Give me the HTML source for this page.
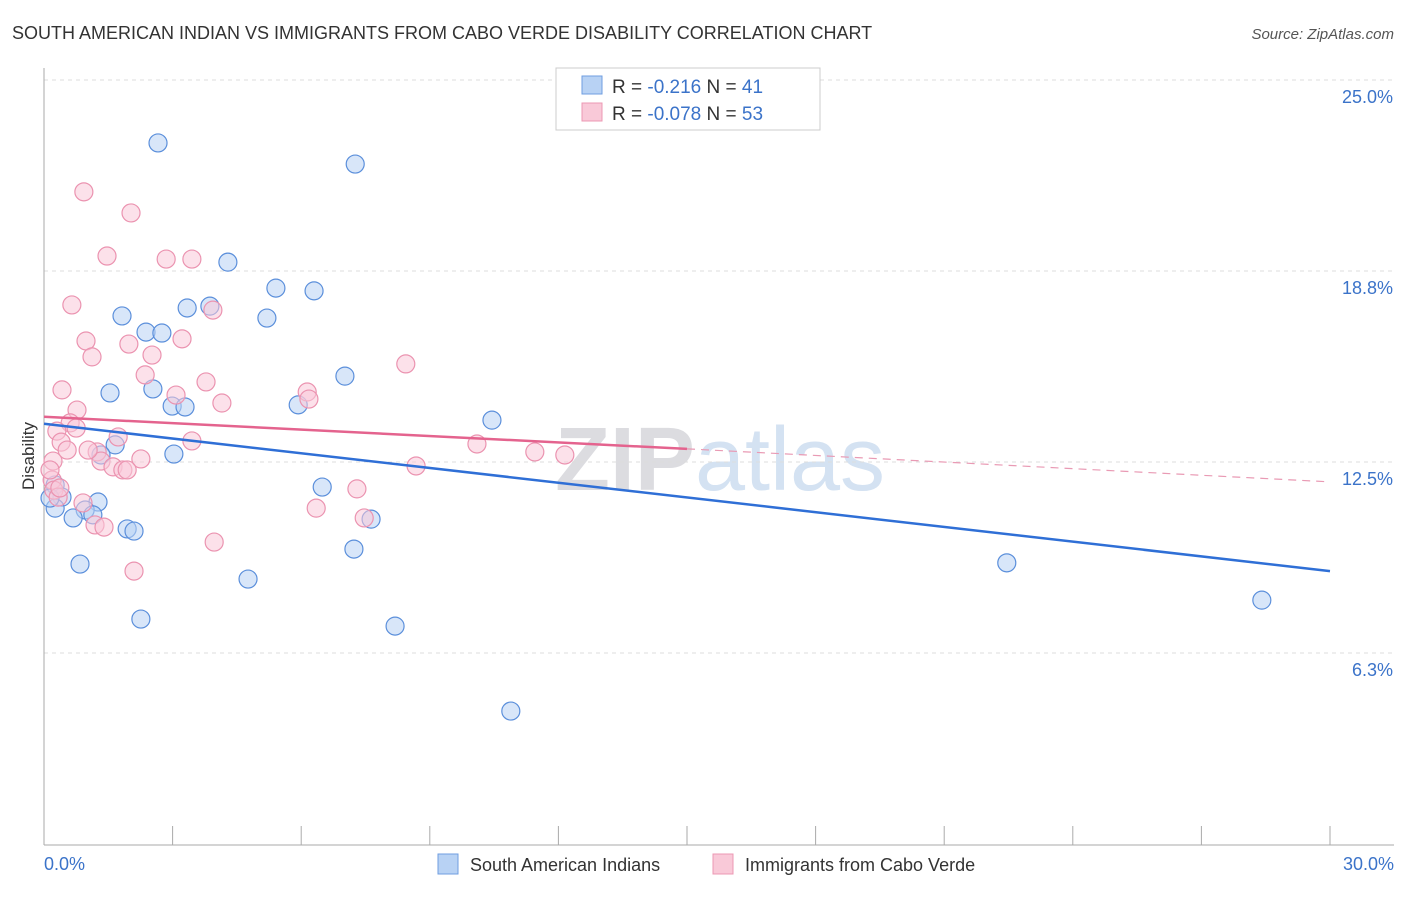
<!DOCTYPE html>
<html><head><meta charset="utf-8"><style>
body{margin:0;background:#fff;font-family:"Liberation Sans",sans-serif}
svg text{font-family:"Liberation Sans",sans-serif}
</style></head><body>
<svg width="1406" height="892">
<text x="12" y="39" font-size="18" fill="#333">SOUTH AMERICAN INDIAN VS IMMIGRANTS FROM CABO VERDE DISABILITY CORRELATION CHART</text>
<text x="1394" y="39" font-size="15" fill="#555" font-style="italic" text-anchor="end">Source: ZipAtlas.com</text>
<text x="720" y="490" font-size="90" fill="#e6e6ea" text-anchor="middle" font-family="Liberation Serif"><tspan font-weight="bold" fill="#dcdce0">ZIP</tspan><tspan fill="#d4e2f2">atlas</tspan></text>
<g id="grid"></g><g id="axes"></g><g id="pts"></g><g id="lines"></g>
<text x="34" y="456" font-size="17" fill="#333" text-anchor="middle" transform="rotate(-90 34 456)">Disability</text>
<text x="44" y="870" font-size="18" fill="#3b73c9">0.0%</text>
<text x="1394" y="870" font-size="18" fill="#3b73c9" text-anchor="end">30.0%</text>
<g>
<rect x="556" y="68" width="264" height="62" fill="#fff" stroke="#ccc"/>
<rect x="582" y="76" width="20" height="18" fill="#b8d2f4" stroke="#6f9ee0"/>
<rect x="582" y="103" width="20" height="18" fill="#f9c9d8" stroke="#ec98b3"/>
<text x="612" y="93" font-size="19" fill="#333">R = <tspan fill="#3b73c9">-0.216</tspan>   N = <tspan fill="#3b73c9">41</tspan></text>
<text x="612" y="120" font-size="19" fill="#333">R = <tspan fill="#3b73c9">-0.078</tspan>   N = <tspan fill="#3b73c9">53</tspan></text>
</g>
<g>
<rect x="438" y="854" width="20" height="20" fill="#b8d2f4" stroke="#6f9ee0"/>
<text x="470" y="871" font-size="18" fill="#333">South American Indians</text>
<rect x="713" y="854" width="20" height="20" fill="#f9c9d8" stroke="#ec98b3"/>
<text x="745" y="871" font-size="18" fill="#333">Immigrants from Cabo Verde</text>
</g>
</svg>
<script>
const yTicks=[25,18.75,12.5,6.25];
const yTickLabels=["25.0%","18.8%","12.5%","6.3%"];
const xTicks=[0,3,6,9,12,15,18,21,24,27,30];
const blueX=[2.66,7.26,4.29,5.41,6.30,3.87,3.34,1.82,5.20,2.38,2.75,7.02,2.54,1.54,2.99,3.29,5.93,10.45,1.66,1.33,3.03,6.49,0.26,0.42,1.26,0.26,0.96,1.14,0.68,1.94,2.10,7.63,7.23,0.84,4.76,22.46,2.26,8.19,28.41,10.89,0.14];
const blueY=[22.94,22.25,19.04,18.19,18.10,17.60,17.54,17.28,17.21,16.75,16.72,15.31,14.89,14.76,14.33,14.30,14.37,13.87,13.06,12.73,12.76,11.68,11.75,11.35,11.19,10.99,10.93,10.77,10.67,10.31,10.24,10.63,9.65,9.16,8.67,9.20,7.36,7.13,7.98,4.35,11.32];
const pinkX=[0.93,2.03,1.47,2.85,3.45,0.65,3.94,0.98,1.98,3.22,1.12,2.52,8.44,2.36,3.78,0.42,3.08,6.14,6.18,4.15,0.77,0.61,0.75,0.30,1.73,0.40,3.45,0.54,10.10,11.45,12.15,1.24,0.21,1.33,2.26,1.61,1.84,1.94,8.68,0.19,0.23,0.33,0.91,7.30,6.35,7.47,1.19,1.40,3.97,2.10,0.37,0.14,1.03];
const pinkY=[21.34,20.65,19.24,19.14,19.14,17.64,17.47,16.46,16.36,16.53,15.94,16.00,15.71,15.35,15.12,14.86,14.69,14.79,14.56,14.43,14.20,13.78,13.61,13.51,13.32,13.15,13.19,12.89,13.09,12.83,12.73,12.83,12.53,12.53,12.60,12.34,12.24,12.24,12.37,11.91,11.58,11.35,11.16,11.62,10.99,10.67,10.44,10.37,9.88,8.93,11.65,12.24,12.89];
const blueTrend=[[0,13.75],[30,8.93]];
const pinkTrend=[[0,13.98],[15,12.93],[30,11.85]];
const X=v=>44+v/30*1286, Y=v=>844-v/25*764;
const NS="http://www.w3.org/2000/svg";
function mk(p,t,a){const e=document.createElementNS(NS,t);for(const k in a)e.setAttribute(k,a[k]);document.getElementById(p).appendChild(e);return e;}
yTicks.forEach((t,i)=>{
 let g=mk('grid','line',{x1:44,x2:1394,y1:Y(t),y2:Y(t),stroke:'#ddd','stroke-dasharray':'4,4'});
 
 
 let l=mk('grid','text',{x:1393,y:Y(t)+23,'font-size':18,fill:'#3b73c9','text-anchor':'end'});l.textContent=yTickLabels[i];
 
 
});
mk('axes','line',{x1:44,x2:44,y1:68,y2:845,stroke:'#aaa'});
mk('axes','line',{x1:44,x2:1394,y1:845,y2:845,stroke:'#aaa'});
xTicks.forEach(t=>{let e=mk('axes','line',{x1:X(t),x2:X(t),y1:826,y2:845,stroke:'#aaa'});
 
 });
function dots(xs,ys,fill,stroke,name){xs.forEach((x,i)=>{const c=mk('pts','circle',{cx:X(x),cy:Y(ys[i]),r:9,fill:fill,'fill-opacity':0.55,stroke:stroke,'stroke-width':1.2});
 
 });}
dots(blueX,blueY,'#b8d2f4','#5b8fdb','blue-point');
dots(pinkX,pinkY,'#f9c9d8','#eb93b0','pink-point');
let b=mk('lines','line',{x1:X(blueTrend[0][0]),y1:Y(blueTrend[0][1]),x2:X(blueTrend[1][0]),y2:Y(blueTrend[1][1]),stroke:'#2f6fd6','stroke-width':2.5});


let p1=mk('lines','line',{x1:X(pinkTrend[0][0]),y1:Y(pinkTrend[0][1]),x2:X(pinkTrend[1][0]),y2:Y(pinkTrend[1][1]),stroke:'#e4638e','stroke-width':2.5});


let p2=mk('lines','line',{x1:X(pinkTrend[1][0]),y1:Y(pinkTrend[1][1]),x2:X(pinkTrend[2][0]),y2:Y(pinkTrend[2][1]),stroke:'#e99ab4','stroke-width':1.2,'stroke-dasharray':'8,6'});


</script>
</body></html>
